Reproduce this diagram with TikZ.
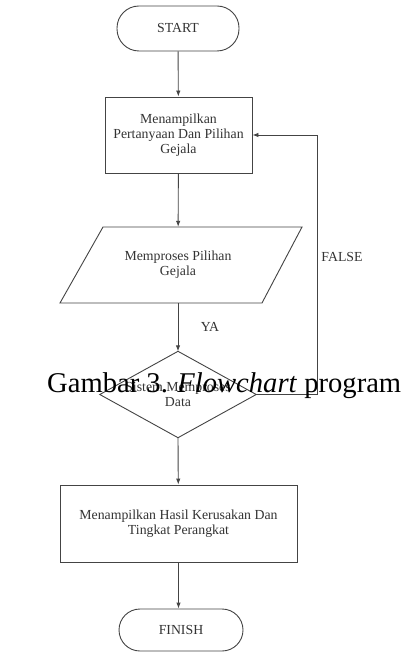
\documentclass[tikz,border=0pt]{standalone}
\usepackage{fontspec}
\setmainfont{Liberation Serif}
\usetikzlibrary{arrows.meta}
\definecolor{linec}{HTML}{444444}
\definecolor{textc}{HTML}{333333}
\tikzset{
  base/.style={draw=linec, line width=0.9pt, text=textc, align=center, inner sep=2pt,
    font=\fontsize{13.8}{15}\selectfont},
  term/.style={base, rounded corners=22pt, minimum width=122pt, minimum height=45pt},
  proc/.style={base, rectangle, minimum width=147pt, minimum height=76pt},
  shapeline/.style={draw=linec, line width=0.9pt},
  arr/.style={draw=linec, line width=0.9pt, -{Latex[length=6pt,width=4.5pt]}},
  lbl/.style={text=textc, align=center, font=\fontsize{13.8}{15}\selectfont},
}
\begin{document}
\begin{tikzpicture}[x=1pt,y=-1pt]
\useasboundingbox (0,0) rectangle (404,652);
\fill[white] (0,0) rectangle (404,652);
\node[term] (start) at (178,28.5) {START};
\node[proc] (b1) at (178.5,135) {Menampilkan\\Pertanyaan Dan Pilihan\\Gejala};
% parallelogram
\draw[shapeline] (103,227) -- (302,227) -- (262,303) -- (60,303) -- cycle;
\node[lbl, minimum height=76pt, inner sep=0pt] (p) at (178,265) {Memproses Pilihan\\Gejala};
% decision
\node[lbl, minimum width=156pt, minimum height=86pt, inner sep=0pt] (d) at (178,394.5) {Sistem Memproses\\Data};
\draw[shapeline] (d.north) -- (d.east) -- (d.south) -- (d.west) -- cycle;
\node[proc, minimum width=237pt, minimum height=77pt] (b2) at (178.5,523.5) {Menampilkan Hasil Kerusakan Dan\\Tingkat Perangkat};
\node[term, minimum width=124pt, minimum height=42pt, rounded corners=21pt] (fin) at (181,630) {FINISH};
\coordinate (fb) at (317,394.5);
\draw[arr] (start) -- (b1);
\draw[arr] (b1) -- (p);
\draw[arr] (p) -- (d.north);
\draw[arr] (d.south) -- (b2);
\draw[arr] (b2) -- (fin.north -| b2);
\draw[arr] (d.east) -- (fb) |- (b1.east);
\node[lbl] (ya) at (210,327) {YA};
\node[lbl] (false) at (342,257) {FALSE};
\node[anchor=base west, inner sep=0pt, font=\fontsize{28.6}{32}\selectfont] (cap) at (47,392) {Gambar 3. \textit{Flowchart} program};
\end{tikzpicture}
\end{document}
